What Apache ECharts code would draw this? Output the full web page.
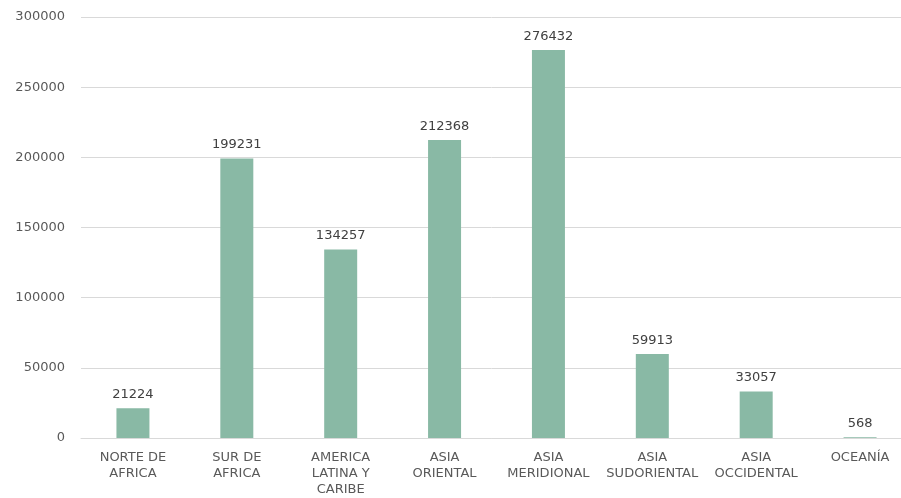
<!DOCTYPE html>
<html><head><meta charset="utf-8">
<script src="https://cdn.jsdelivr.net/npm/echarts@6/dist/echarts.min.js"></script>
<style>html,body{margin:0;padding:0;background:#fff}#c{width:901px;height:498px}</style>
</head><body><div id="c"></div>
<script>
const categories = ["NORTE DE\nAFRICA","SUR DE\nAFRICA","AMERICA\nLATINA Y\nCARIBE","ASIA\nORIENTAL","ASIA\nMERIDIONAL","ASIA\nSUDORIENTAL","ASIA\nOCCIDENTAL","OCEANÍA"];
const values = [21224,199231,134257,212368,276432,59913,33057,568];
const yTicks = {min:0,max:300000,interval:50000};
const chart = echarts.init(document.getElementById('c'));
chart.setOption({
  animation:false,
  grid:{left:81,width:831,top:17,bottom:60,outerBoundsMode:'none',containLabel:false},
  xAxis:{type:'category',data:categories,
    axisLine:{lineStyle:{color:'#d9d9d9'}},axisTick:{show:false},
    axisLabel:{interval:0,color:'#595959',fontFamily:'DejaVu Sans',fontSize:13,lineHeight:16,margin:12}},
  yAxis:{type:'value',min:yTicks.min,max:yTicks.max,interval:yTicks.interval,
    axisLine:{show:false},axisTick:{show:false},
    splitLine:{lineStyle:{color:'#d9d9d9'}},
    axisLabel:{color:'#595959',fontFamily:'DejaVu Sans',fontSize:13,margin:16,formatter:v=>String(v)}},
  series:[{type:'bar',data:values,barWidth:33,itemStyle:{color:'#89b9a5'},
    label:{show:true,position:'top',distance:7,color:'#404040',fontFamily:'DejaVu Sans',fontSize:13}}]
});
</script></body></html>
